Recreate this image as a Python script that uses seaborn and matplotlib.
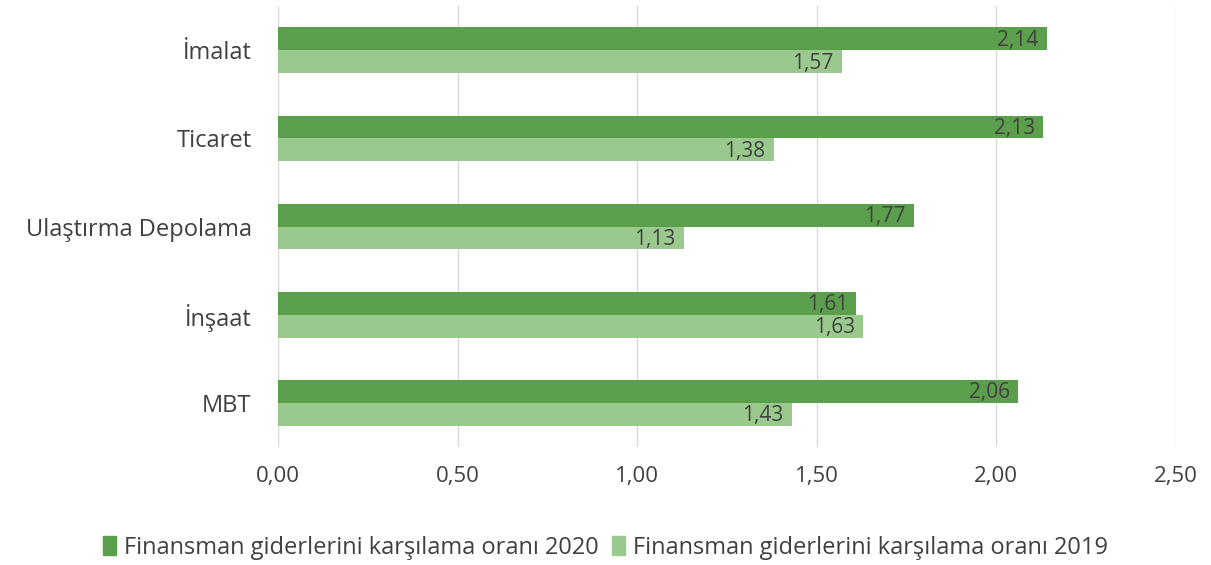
import pandas as pd
import matplotlib.pyplot as plt
import seaborn as sns

sectors = ['İmalat', 'Ticaret', 'Ulaştırma Depolama', 'İnşaat', 'MBT']
ratio_2020 = [2.14, 2.13, 1.77, 1.61, 2.06]
ratio_2019 = [1.57, 1.38, 1.13, 1.63, 1.43]
series_names = ['Finansman giderlerini karşılama oranı 2020',
                'Finansman giderlerini karşılama oranı 2019']
x_ticks = [0, 0.5, 1.0, 1.5, 2.0, 2.5]

df = pd.DataFrame({
    'sector': sectors * 2,
    'value': ratio_2020 + ratio_2019,
    'series': [series_names[0]] * len(sectors) + [series_names[1]] * len(sectors),
})

sns.set_style('white')
plt.rcParams['font.family'] = ['Open Sans', 'DejaVu Sans']
text_color = '#404040'
palette = {series_names[0]: '#5b9e4b', series_names[1]: '#99c98c'}

fig = plt.figure(figsize=(12.11, 5.65), dpi=100)
ax = fig.add_axes([0.2296, 0.209, 0.7414, 0.78])

sns.barplot(data=df, y='sector', x='value', hue='series', order=sectors,
            hue_order=series_names, palette=palette, orient='h',
            width=0.52, saturation=1, linewidth=0, ax=ax, legend=False)

# value labels just inside the bar ends
for cont in ax.containers:
    for bar in cont:
        w = bar.get_width()
        ax.annotate(f'{w:.2f}'.replace('.', ','),
                    (w, bar.get_y() + bar.get_height() / 2),
                    xytext=(-6, -1), textcoords='offset points',
                    ha='right', va='center', fontsize=15, color=text_color)

ax.set_xlim(0, 2.5)
ax.set_ylim(4.5, -0.5)
ax.set_xticks(x_ticks)
ax.set_xticklabels([f'{t:.2f}'.replace('.', ',') for t in x_ticks],
                   fontsize=16, color=text_color)
ax.tick_params(axis='y', labelsize=17, labelcolor=text_color, length=0, pad=19)
ax.tick_params(axis='x', length=0, pad=14)
ax.xaxis.grid(True, color='#d9d9d9', linewidth=1)
ax.set_axisbelow(True)
ax.set_xlabel('')
ax.set_ylabel('')
for s in ax.spines.values():
    s.set_visible(False)

handles = [plt.Rectangle((0, 0), 1, 1, color=palette[n]) for n in series_names]
fig.legend(handles, series_names, loc='center', bbox_to_anchor=(0.5, 0.03),
           ncol=2, frameon=False, fontsize=17, handlelength=0.55,
           handleheight=0.85, handletextpad=0.3, columnspacing=0.6,
           labelcolor=text_color)

fig.savefig('out.png', dpi=100, facecolor='white')
